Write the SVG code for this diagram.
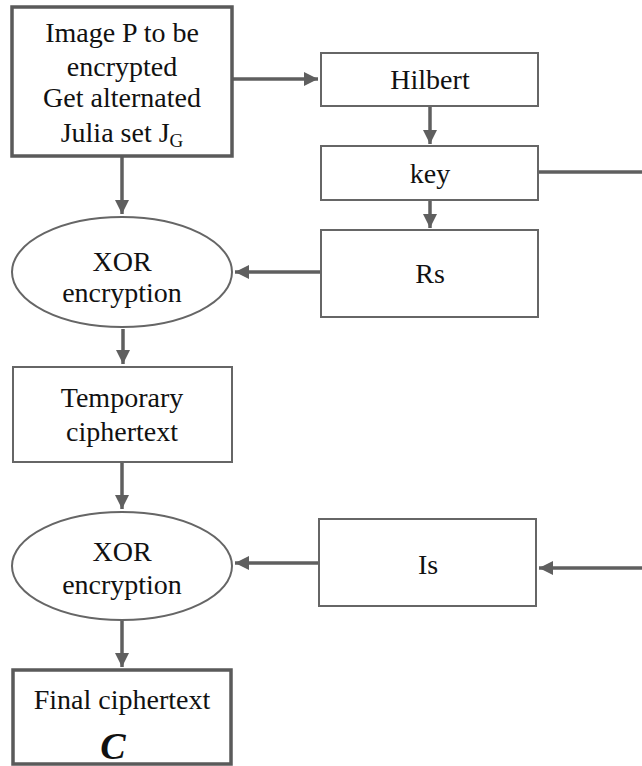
<svg xmlns="http://www.w3.org/2000/svg" width="642" height="766" viewBox="0 0 642 766">
<style>
.box{fill:#fff;stroke:#666;stroke-width:2}
.thick{fill:#fff;stroke:#5a5a5a;stroke-width:3.5}
.ell{fill:#fff;stroke:#666;stroke-width:2}
.t{font-family:"Liberation Serif","Times New Roman",serif;font-size:28px;fill:#111;text-anchor:middle}
.big{font-size:38px;font-weight:bold;font-style:italic}
.c{stroke:#5f5f5f;stroke-width:3.5;fill:none}
</style>
<defs>
<marker id="ah" viewBox="0 0 10 10" refX="10" refY="5" markerWidth="4" markerHeight="4" orient="auto" markerUnits="strokeWidth">
<path d="M0,0 L10,5 L0,10 z" fill="#5f5f5f"/>
</marker>
</defs>
<rect width="642" height="766" fill="#fff"/>
<g id="connectors">
<line class="c" x1="233" y1="79" x2="318" y2="79" marker-end="url(#ah)"/>
<line class="c" x1="430" y1="107" x2="430" y2="144" marker-end="url(#ah)"/>
<line class="c" x1="430" y1="201" x2="430" y2="228" marker-end="url(#ah)"/>
<line class="c" x1="539" y1="172" x2="642" y2="172"/>
<line class="c" x1="122" y1="157" x2="122" y2="214" marker-end="url(#ah)"/>
<line class="c" x1="320" y1="272" x2="235" y2="272" marker-end="url(#ah)"/>
<line class="c" x1="123" y1="329" x2="123" y2="364" marker-end="url(#ah)"/>
<line class="c" x1="122" y1="463" x2="122" y2="509" marker-end="url(#ah)"/>
<line class="c" x1="318" y1="563" x2="235" y2="563" marker-end="url(#ah)"/>
<line class="c" x1="642" y1="568" x2="539" y2="568" marker-end="url(#ah)"/>
<line class="c" x1="122" y1="621" x2="122" y2="667" marker-end="url(#ah)"/>
</g>
<g id="image-p">
<rect class="thick" x="12" y="7" width="220" height="149"/>
<text class="t" x="122" y="42">Image P to be</text>
<text class="t" x="122" y="76">encrypted</text>
<text class="t" x="122" y="107">Get alternated</text>
<text class="t" x="122" y="142">Julia set J<tspan style="font-size:19px" dy="5">G</tspan></text>
</g>
<g id="hilbert">
<rect class="box" x="321" y="53" width="217" height="53"/>
<text class="t" x="430" y="89">Hilbert</text>
</g>
<g id="key">
<rect class="box" x="321" y="146" width="217" height="54"/>
<text class="t" x="430" y="183">key</text>
</g>
<g id="rs">
<rect class="box" x="321" y="230" width="217" height="87"/>
<text class="t" x="430" y="283">Rs</text>
</g>
<g id="xor1">
<ellipse class="ell" cx="122" cy="272" rx="110" ry="55"/>
<text class="t" x="122" y="271">XOR</text>
<text class="t" x="122" y="302">encryption</text>
</g>
<g id="temp">
<rect class="box" x="13" y="367" width="219" height="95"/>
<text class="t" x="122" y="407">Temporary</text>
<text class="t" x="122" y="441">ciphertext</text>
</g>
<g id="xor2">
<ellipse class="ell" cx="122" cy="566" rx="110" ry="54"/>
<text class="t" x="122" y="561">XOR</text>
<text class="t" x="122" y="594">encryption</text>
</g>
<g id="is">
<rect class="box" x="319" y="519" width="217" height="87"/>
<text class="t" x="428" y="574">Is</text>
</g>
<g id="final">
<rect class="thick" x="13" y="670" width="218" height="94"/>
<text class="t" x="122" y="709">Final ciphertext</text>
<text class="t big" x="113" y="759">C</text>
</g>
</svg>
